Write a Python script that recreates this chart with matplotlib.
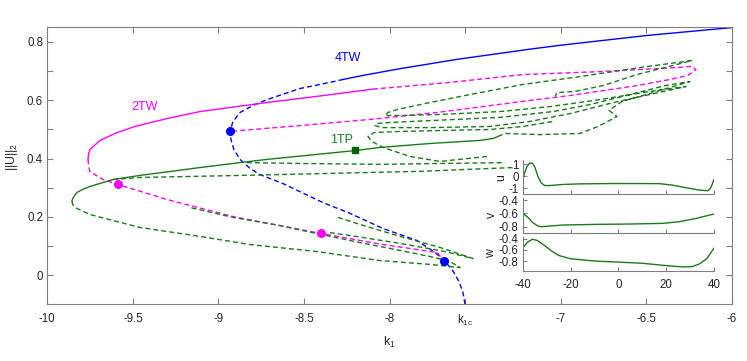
import matplotlib.pyplot as plt

plt.rcParams['font.family'] = ['Liberation Sans', 'DejaVu Sans']
plt.rcParams['mathtext.default'] = 'regular'
plt.rcParams['axes.unicode_minus'] = False
plt.rcParams['lines.scale_dashes'] = False

# ---- branches of the bifurcation diagram (k1, ||U||_2) ----
tw4_stable = [(-8.273, 0.671), (-8.156, 0.685), (-7.940, 0.708), (-7.607, 0.740),
              (-7.181, 0.775), (-6.994, 0.789), (-6.497, 0.822), (-6.0, 0.849)]
tw4_unstable = [(-7.560, -0.100), (-7.572, -0.059), (-7.595, -0.022), (-7.636, 0.020),
                (-7.683, 0.050), (-7.735, 0.078), (-7.841, 0.119), (-8.039, 0.160),
                (-8.232, 0.212), (-8.390, 0.249), (-8.623, 0.314), (-8.758, 0.345),
                (-8.816, 0.366), (-8.874, 0.397), (-8.910, 0.431), (-8.927, 0.465),
                (-8.933, 0.493), (-8.915, 0.527), (-8.874, 0.558), (-8.787, 0.585),
                (-8.717, 0.602), (-8.524, 0.640), (-8.349, 0.661), (-8.273, 0.671)]

tw2_stable = [(-9.762, 0.397), (-9.759, 0.415), (-9.751, 0.431), (-9.692, 0.462),
              (-9.605, 0.486), (-9.488, 0.510), (-9.301, 0.537), (-9.108, 0.561),
              (-8.717, 0.592), (-8.331, 0.620), (-8.098, 0.638)]
tw2_upper = [(-8.098, 0.638), (-7.648, 0.661), (-7.221, 0.688), (-6.772, 0.698),
             (-6.322, 0.712), (-6.234, 0.716), (-6.211, 0.705), (-6.258, 0.685),
             (-6.363, 0.671), (-6.556, 0.650), (-6.947, 0.616), (-7.221, 0.596),
             (-7.724, 0.558), (-8.115, 0.534), (-8.524, 0.513), (-8.933, 0.493)]
tw2_lower = [(-9.762, 0.397), (-9.759, 0.378), (-9.751, 0.355), (-9.674, 0.328),
             (-9.587, 0.311), (-9.301, 0.2595), (-8.915, 0.201), (-8.401, 0.143),
             (-8.039, 0.105), (-7.724, 0.078), (-7.683, 0.050)]

tp1_stable = [(-9.856, 0.253), (-9.852, 0.262), (-9.844, 0.270), (-9.827, 0.2835),
              (-9.790, 0.295), (-9.751, 0.304), (-9.616, 0.328), (-9.459, 0.342),
              (-9.108, 0.369), (-8.874, 0.386), (-8.717, 0.397), (-8.197, 0.4275),
              (-8.057, 0.438), (-7.765, 0.4515), (-7.473, 0.462), (-7.397, 0.4686),
              (-7.368, 0.4755)]
tp1_low = [(-9.856, 0.253), (-9.850, 0.240), (-9.827, 0.229), (-9.751, 0.208),
           (-9.459, 0.1635), (-9.108, 0.133), (-8.816, 0.105), (-8.425, 0.081),
           (-8.057, 0.050), (-7.765, 0.037), (-7.589, 0.026), (-7.648, 0.047),
           (-7.765, 0.064), (-7.940, 0.085), (-8.174, 0.112), (-8.401, 0.1395),
           (-8.641, 0.170), (-8.915, 0.198), (-9.166, 0.232)]
tp1_branch_a = [(-9.616, 0.328), (-9.459, 0.335), (-8.874, 0.342), (-8.349, 0.349),
                (-7.823, 0.356), (-7.280, 0.369)]
tp1_branch_b = [(-8.834, 0.386), (-8.524, 0.383), (-8.057, 0.380), (-7.706, 0.383),
                (-7.327, 0.386)]
tp1_fan = [(-8.302, 0.198), (-8.174, 0.174), (-7.940, 0.133), (-7.706, 0.095),
           (-7.513, 0.057), (-7.677, 0.081), (-7.940, 0.109), (-8.232, 0.136),
           (-8.349, 0.146)]
tp1_drop = [(-7.432, 0.407), (-7.706, 0.390), (-7.881, 0.407), (-8.039, 0.438),
            (-8.103, 0.458), (-8.127, 0.4755), (-8.092, 0.489), (-7.957, 0.4926),
            (-7.706, 0.496), (-7.414, 0.4995), (-7.221, 0.510), (-7.046, 0.527)]
tp1_snake = [(-7.368, 0.4755), (-7.327, 0.486), (-7.122, 0.482), (-6.888, 0.486),
             (-6.783, 0.510), (-6.672, 0.544), (-6.719, 0.565), (-6.643, 0.5955),
             (-6.480, 0.623), (-6.246, 0.664), (-6.392, 0.650), (-6.596, 0.6195),
             (-6.830, 0.585), (-7.046, 0.561), (-7.356, 0.541), (-7.765, 0.530),
             (-7.998, 0.5235), (-8.074, 0.520), (-8.086, 0.513), (-8.045, 0.506),
             (-7.765, 0.506), (-7.414, 0.510), (-7.181, 0.527), (-6.947, 0.554),
             (-6.713, 0.589), (-6.480, 0.6195), (-6.269, 0.647), (-6.480, 0.630),
             (-6.772, 0.602), (-7.064, 0.578), (-7.356, 0.561), (-7.706, 0.551),
             (-7.940, 0.5475), (-8.027, 0.5475), (-8.010, 0.558), (-7.957, 0.568),
             (-7.765, 0.592), (-7.473, 0.626), (-7.221, 0.654), (-6.888, 0.681),
             (-6.538, 0.712), (-6.234, 0.736), (-6.392, 0.712), (-6.556, 0.688),
             (-6.754, 0.650), (-6.918, 0.630), (-7.023, 0.626), (-7.034, 0.613)]

blue_pts = [(-8.933, 0.493), (-7.683, 0.050)]
magenta_pts = [(-9.587, 0.311), (-8.401, 0.143)]
green_sq = [(-8.20, 0.428)]
k1c = -7.56

# ---- inset profiles ----
u_x = [-40, -39.3, -38.3, -37.2, -36.1, -35.1, -33.7, -32.3, -30.9, -28.8, -23.2, -16.3,
       -2.3, 8.9, 17.2, 22.8, 28.4, 34.0, 37.5, 38.7, 40]
u_y = [-0.28, 0.28, 0.83, 1.11, 1.11, 0.83, 0.0, -0.56, -0.78, -0.78, -0.69, -0.64,
       -0.61, -0.61, -0.62, -0.75, -0.97, -1.17, -1.22, -0.97, -0.28]
v_x = [-40, -37.9, -35.8, -33.7, -32.3, -23.2, -9.3, 4.7, 18.6, 25.6, 32.6, 40]
v_y = [-0.60, -0.66, -0.74, -0.79, -0.80, -0.775, -0.765, -0.76, -0.75, -0.725, -0.675, -0.61]
w_x = [-40, -38, -36, -34, -31, -28, -25, -20, -10, 0, 10, 17, 22, 27, 31, 34, 37, 40]
w_y = [-0.56, -0.46, -0.41, -0.43, -0.52, -0.62, -0.70, -0.76, -0.80, -0.82, -0.84,
       -0.87, -0.89, -0.905, -0.90, -0.85, -0.76, -0.57]

BLUE = '#0000ff'
MAG = '#ff00ff'
GREEN = '#1b7a1b'
AXC = '#7f7f7f'
TXT = '#262626'
FS = 8.3
DASH = (3.6, 2.2)


def draw(ax, pts, color, dashed, lw=1.0):
    xs = [p[0] for p in pts]
    ys = [p[1] for p in pts]
    ln, = ax.plot(xs, ys, color=color, lw=lw)
    if dashed:
        ln.set_dashes(DASH)
    return ln


fig = plt.figure(figsize=(7.47, 3.61), dpi=100)
ax = fig.add_axes([0.0633, 0.157, 0.9167, 0.7674])

draw(ax, tw4_stable, BLUE, False)
draw(ax, tw4_unstable, BLUE, True)
draw(ax, tw2_stable, MAG, False)
draw(ax, tw2_upper, MAG, True)
draw(ax, tw2_lower, MAG, True)
draw(ax, tp1_stable, GREEN, False)
for br in [tp1_low, tp1_branch_a, tp1_branch_b, tp1_fan, tp1_drop, tp1_snake]:
    draw(ax, br, GREEN, True)

ax.plot([p[0] for p in blue_pts], [p[1] for p in blue_pts], 'o', color=BLUE, ms=5.5, mec=BLUE)
ax.plot([p[0] for p in magenta_pts], [p[1] for p in magenta_pts], 'o', color=MAG, ms=5.5, mec=MAG)
ax.plot([p[0] for p in green_sq], [p[1] for p in green_sq], 's', color='#006400', ms=4.5)

ax.text(-8.243, 0.743, '4TW', color=BLUE, fontsize=9, ha='center', va='center')
ax.text(-9.435, 0.578, '2TW', color=MAG, fontsize=9, ha='center', va='center')
ax.text(-8.279, 0.462, '1TP', color=GREEN, fontsize=9, ha='center', va='center')

ax.set_xlim(-10, -6)
ax.set_ylim(-0.1, 0.85)
ax.set_xticks([-10, -9.5, -9, -8.5, -8, k1c, -7, -6.5, -6])
ax.set_xticklabels(['-10', '-9.5', '-9', '-8.5', '-8', 'k$_{1c}$', '-7', '-6.5', '-6'])
ax.set_yticks([0, 0.2, 0.4, 0.6, 0.8])
ax.set_yticklabels(['0', '0.2', '0.4', '0.6', '0.8'])
ax.set_yticks([0.1, 0.3, 0.5, 0.7], minor=True)
ax.tick_params(which='both', direction='in', top=True, right=True, length=4.5,
               width=0.8, color=AXC, labelsize=FS, labelcolor=TXT)
ax.tick_params(axis='x', pad=6.5)
ax.tick_params(axis='y', pad=3)
for s in ax.spines.values():
    s.set_color(AXC)
    s.set_linewidth(0.8)
ax.set_xlabel('k$_1$', fontsize=FS + 0.5, color=TXT)
ax.set_ylabel('||U||$_2$', fontsize=FS + 0.5, color=TXT)
ax.xaxis.set_label_coords(0.5, -0.112)
ax.yaxis.set_label_coords(-0.040, 0.532)

# ---- inset ----
ins = [
    ([0.700, 0.4618, 0.2557, 0.095], u_x, u_y, (-1.52, 1.38), [-1, 0, 1], ['-1', '0', '1'], 'u'),
    ([0.700, 0.3554, 0.2557, 0.0961], v_x, v_y, (-0.89, -0.37), [-0.8, -0.6, -0.4],
     ['-0.8', '-0.6', '-0.4'], 'v'),
    ([0.700, 0.2501, 0.2557, 0.0942], w_x, w_y, (-0.974, -0.364), [-0.8, -0.6, -0.4],
     ['-0.8', '-0.6', '-0.4'], 'w'),
]
for i, (pos, xs, ys, yl, yt, ytl, name) in enumerate(ins):
    a = fig.add_axes(pos)
    a.patch.set_alpha(0)
    a.plot(xs, ys, color=GREEN, lw=1.0)
    a.set_xlim(-40, 40)
    a.set_ylim(*yl)
    a.set_yticks(yt)
    a.set_yticklabels(ytl)
    a.set_xticks([-40, -20, 0, 20, 40])
    if i < 2:
        a.set_xticklabels([])
    else:
        a.set_xticklabels(['-40', '-20', '0', '20', '40'])
    a.spines['top'].set_visible(False)
    a.spines['right'].set_visible(False)
    for s in ['left', 'bottom']:
        a.spines[s].set_color(AXC)
        a.spines[s].set_linewidth(0.8)
    a.tick_params(direction='in', length=3, width=0.8, color=AXC, labelsize=FS,
                  labelcolor=TXT)
    a.tick_params(axis='x', pad=6)
    a.tick_params(axis='y', pad=3)
    a.set_ylabel(name, fontsize=FS + 0.5, color=TXT, labelpad=1)

fig.savefig('out.png', dpi=100)
